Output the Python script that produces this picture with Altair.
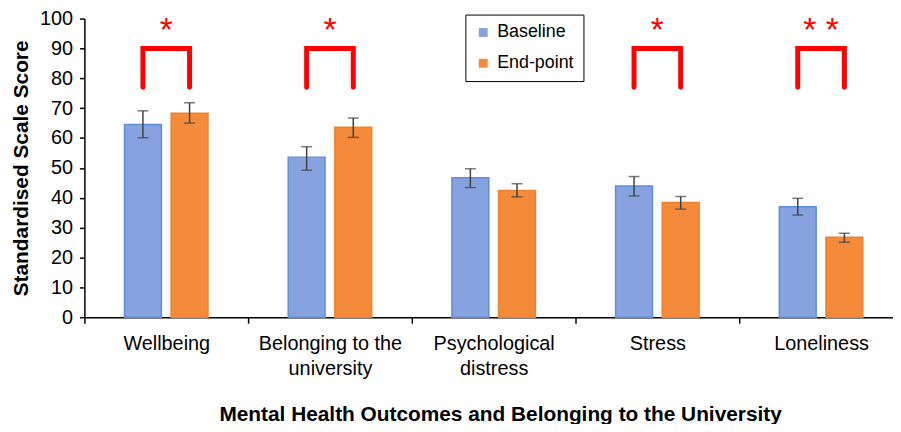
import altair as alt
import pandas as pd

categories = ["Wellbeing", "Belonging to the university", "Psychological distress", "Stress", "Loneliness"]
series = ["Baseline", "End-point"]
baseline_mean = [64.5, 53.6, 46.7, 43.9, 37.0]
baseline_lo = [60.1, 49.2, 43.4, 40.6, 34.2]
baseline_hi = [69.1, 57.1, 49.7, 47.1, 39.8]
endpoint_mean = [68.3, 63.6, 42.4, 38.4, 26.8]
endpoint_lo = [65.0, 60.2, 40.3, 36.2, 25.1]
endpoint_hi = [71.8, 66.7, 44.7, 40.4, 28.1]
sig_labels = ["*", "*", "", "*", "* *"]
bracket_top = 90
bracket_leg = 77
star_level = 92.5
label_lines = {
    "Belonging to the university": ["Belonging to the", "university"],
    "Psychological distress": ["Psychological", "distress"],
}
x_title = "Mental Health Outcomes and Belonging to the University"
y_title = "Standardised Scale Score"

FONT = "Liberation Sans, Arial, sans-serif"

rows = []
for i, c in enumerate(categories):
    rows.append(dict(cat=c, grp=series[0], val=baseline_mean[i], lo=baseline_lo[i], hi=baseline_hi[i]))
    rows.append(dict(cat=c, grp=series[1], val=endpoint_mean[i], lo=endpoint_lo[i], hi=endpoint_hi[i]))
df = pd.DataFrame(rows)

br = []
for i, c in enumerate(categories):
    if sig_labels[i]:
        br += [
            dict(cat=c, grp=series[0], val=bracket_leg, o=0),
            dict(cat=c, grp=series[0], val=bracket_top, o=1),
            dict(cat=c, grp=series[1], val=bracket_top, o=2),
            dict(cat=c, grp=series[1], val=bracket_leg, o=3),
        ]
br_df = pd.DataFrame(br)
star_df = pd.DataFrame([dict(cat=c, txt=s, val=star_level) for c, s in zip(categories, sig_labels) if s])

expr = "datum.label"
for k, v in label_lines.items():
    expr = f"datum.label == '{k}' ? {v} : " + expr

x_axis = alt.Axis(
    title=x_title, tickBand="extent", tickSize=6, tickColor="black", tickWidth=1.5,
    domainColor="black", domainWidth=1.5, labelAngle=0, labelFont=FONT, labelFontSize=20,
    labelColor="black", labelPadding=11, labelLineHeight=25, labelExpr=expr,
    titleFont=FONT, titleFontSize=21, titleFontWeight="bold", titleColor="black",
    titlePadding=25, labelLimit=300, titleX=419,
)
y_axis = alt.Axis(
    title=y_title, values=list(range(0, 101, 10)), tickSize=5, tickColor="black", tickWidth=1.5,
    domainColor="black", domainWidth=1.5, labelFont=FONT, labelFontSize=20, labelColor="black",
    labelPadding=7, titleFont=FONT, titleFontSize=21, titleFontWeight="bold", titleColor="black",
    titlePadding=8, grid=False,
)

y_scale = alt.Scale(domain=[0, 100], nice=False)
X = alt.X("cat:N", sort=categories, scale=alt.Scale(paddingInner=0, paddingOuter=0), axis=x_axis)
XO = alt.XOffset("grp:N", sort=series, scale=alt.Scale(paddingInner=0.21, paddingOuter=0.86))
Y = alt.Y("val:Q", scale=y_scale, axis=y_axis)

fill_scale = alt.Scale(domain=series, range=["#86A3DF", "#F58B3A"])
stroke_scale = alt.Scale(domain=series, range=["#5E8EDA", "#EF8030"])

bars = alt.Chart(df).mark_bar(strokeWidth=1.5).encode(
    x=X, xOffset=XO, y=Y,
    fill=alt.Fill("grp:N", scale=fill_scale, sort=series, legend=alt.Legend(
        title=None, orient="none", legendX=384, legendY=-4, strokeColor="black",
        fillColor="white", padding=9, symbolType="square", symbolSize=80,
        symbolStrokeWidth=0, labelFont=FONT, labelFontSize=18, labelColor="black",
        rowPadding=13, labelOffset=5)),
    stroke=alt.Stroke("grp:N", scale=stroke_scale, sort=series, legend=None),
)

err = alt.Chart(df).mark_rule(color="#404040", strokeWidth=1.5).encode(
    x=X, xOffset=XO, y=alt.Y("lo:Q", scale=y_scale, axis=y_axis), y2="hi:Q"
)
cap_lo = alt.Chart(df).mark_tick(color="#404040", thickness=1.5, size=11).encode(
    x=X, xOffset=XO, y=alt.Y("lo:Q", scale=y_scale, axis=y_axis)
)
cap_hi = alt.Chart(df).mark_tick(color="#404040", thickness=1.5, size=11).encode(
    x=X, xOffset=XO, y=alt.Y("hi:Q", scale=y_scale, axis=y_axis)
)

brackets = alt.Chart(br_df).mark_line(color="#FF0000", strokeWidth=5, strokeCap="round", strokeJoin="miter").encode(
    x=X, xOffset=XO, y=Y, detail="cat:N", order="o:Q"
)

stars = alt.Chart(star_df).mark_text(color="#FF0000", fontSize=34, font=FONT, baseline="alphabetic").encode(
    x=X, y=Y, text="txt:N"
)

chart = alt.layer(bars, err, cap_lo, cap_hi, brackets, stars).properties(
    width=825, height=301,
    autosize=alt.AutoSizeParams(type="none"),
    padding={"left": 77, "top": 9, "right": -10, "bottom": 106},
).configure_view(stroke=None)

chart.save("out.html", embed_options={"renderer": "svg", "actions": False})
